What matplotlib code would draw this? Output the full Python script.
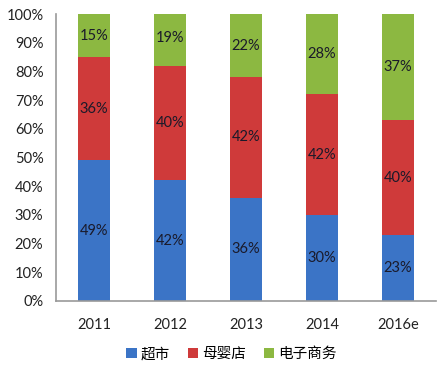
import matplotlib
matplotlib.use("Agg")
import matplotlib.pyplot as plt
import numpy as np

categories = ["2011", "2012", "2013", "2014", "2016e"]
series_names = ["超市", "母婴店", "电子商务"]
supermarket = [49, 42, 36, 30, 23]
baby_store = [36, 40, 42, 42, 40]
ecommerce = [15, 19, 22, 28, 37]
yticks = [0, 10, 20, 30, 40, 50, 60, 70, 80, 90, 100]

colors = ["#3b74c6", "#cf3a3a", "#8cb841"]

plt.rcParams['font.family'] = ['Lato', 'Noto Sans CJK SC', 'DejaVu Sans']

fig = plt.figure(figsize=(4.37, 3.71), dpi=100)
ax = fig.add_axes([0.128, 0.189, 0.87, 0.773])

x = np.arange(len(categories))
w = 0.42
bottom = np.zeros(len(categories))
for name, vals, c in zip(series_names, [supermarket, baby_store, ecommerce], colors):
    vals = np.array(vals, dtype=float)
    ax.bar(x, vals, w, bottom=bottom, color=c, label=name, zorder=2)
    for xi, b, v in zip(x, bottom, vals):
        ax.text(xi, b + v / 2, f"{int(v)}%", ha="center", va="center",
                fontsize=10.5, color="#1a1a2a", zorder=3)
    bottom += vals

ax.set_xlim(-0.5, len(categories) - 0.5)
ax.set_ylim(0, 100)
ax.set_yticks(yticks)
ax.set_yticklabels([f"{t}%" for t in yticks], fontsize=10.5, color="#222222")
ax.set_xticks(x)
ax.set_xticklabels(categories, fontsize=10.5, color="#222222")
ax.tick_params(axis="x", length=0, pad=12)
ax.tick_params(axis="y", length=0, pad=9)
for s in ["top", "right"]:
    ax.spines[s].set_visible(False)
for s in ["left", "bottom"]:
    ax.spines[s].set_color("#999999")
    ax.spines[s].set_linewidth(1.2)

leg = fig.legend(loc="center", bbox_to_anchor=(0.53, 0.045), ncol=3, frameon=False,
                 fontsize=10.5, handlelength=0.7, handleheight=0.7, handletextpad=0.3,
                 columnspacing=1.2)

fig.savefig("out.png", dpi=100)
